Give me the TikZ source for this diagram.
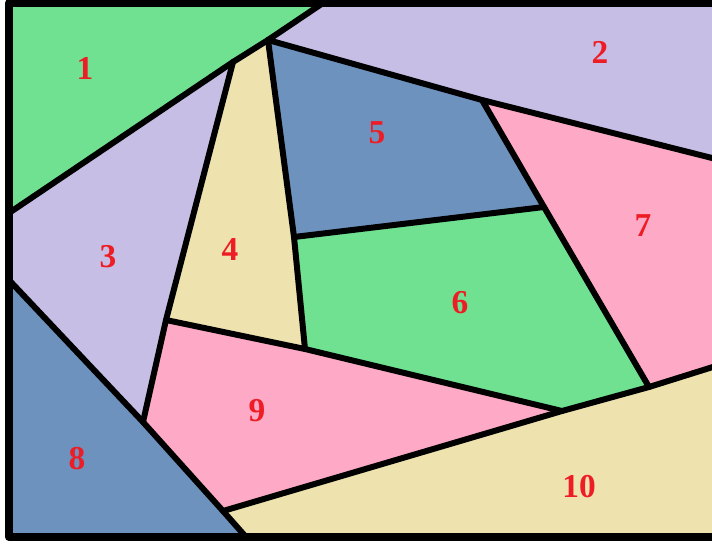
\documentclass[tikz,border=0pt]{standalone}
\usepackage{fontspec}
\setmainfont{Liberation Serif}
\usepackage{tikz}
\usepackage{xcolor}

\definecolor{mapgreen}{RGB}{111,225,145}
\definecolor{maplilac}{RGB}{198,190,228}
\definecolor{mapsand}{RGB}{238,226,174}
\definecolor{mapblue}{RGB}{110,146,190}
\definecolor{mappink}{RGB}{254,170,198}
\definecolor{mapred}{RGB}{238,28,36}

\begin{document}
\begin{tikzpicture}[x=0.02cm,y=-0.02cm,line cap=round,line join=round,
  border/.style={line width=3.4pt,black},
  lbl/.style={text=mapred,font=\fontsize{19}{19}\selectfont\bfseries,inner sep=0pt}]
\useasboundingbox (0,0) rectangle (712,544);
\clip (0,0) rectangle (712,544);
% frame corners
\coordinate (tl) at (9,3);
\coordinate (tr) at (716,3);
\coordinate (br) at (716,537);
\coordinate (bl) at (9,537);
% vertices
\coordinate (l1) at (9,213);
\coordinate (t1) at (323,3);
\coordinate (B) at (268,40);
\coordinate (C) at (233,62);
\coordinate (P2) at (482,100);
\coordinate (r2) at (716,159);
\coordinate (F) at (294,237);
\coordinate (H) at (544,207);
\coordinate (D) at (166,320);
\coordinate (G) at (305,349);
\coordinate (J) at (562,411);
\coordinate (I) at (649,387);
\coordinate (r10) at (716,366);
\coordinate (l8) at (9,280);
\coordinate (E) at (143,422);
\coordinate (K) at (223,511);
\coordinate (b8) at (246,537);
% regions
\fill[mapgreen] (tl) -- (t1) -- (l1) -- cycle;
\fill[maplilac] (t1) -- (tr) -- (r2) -- (P2) -- (B) -- cycle;
\fill[maplilac] (l1) -- (C) -- (D) -- (E) -- (l8) -- cycle;
\fill[mapsand] (C) -- (B) -- (F) -- (G) -- (D) -- cycle;
\fill[mapblue] (B) -- (P2) -- (H) -- (F) -- cycle;
\fill[mapgreen] (F) -- (H) -- (I) -- (J) -- (G) -- cycle;
\fill[mappink] (P2) -- (r2) -- (r10) -- (I) -- (H) -- cycle;
\fill[mapblue] (l8) -- (E) -- (K) -- (b8) -- (bl) -- cycle;
\fill[mappink] (D) -- (G) -- (J) -- (K) -- (E) -- cycle;
\fill[mapsand] (K) -- (J) -- (I) -- (r10) -- (br) -- (b8) -- cycle;
% borders
\draw[border] (l1) -- (C) -- (B) -- (t1);
\draw[border] (B) -- (P2) -- (r2);
\draw[border] (C) -- (D) -- (E);
\draw[border] (B) -- (F) -- (G);
\draw[border] (F) -- (H);
\draw[border] (P2) -- (H) -- (I);
\draw[border] (D) -- (G) -- (J);
\draw[border] (K) -- (J) -- (I) -- (r10);
\draw[border] (l8) -- (E) -- (K) -- (b8);
\draw[line width=4.5pt,line cap=rect] (tl) rectangle (br);
% labels
\node[lbl] (n1) at (85,68) {1};
\node[lbl] (n2) at (600,52) {2};
\node[lbl] (n3) at (108,257) {3};
\node[lbl] (n4) at (230,250) {4};
\node[lbl] (n5) at (377,133) {5};
\node[lbl] (n6) at (460,303) {6};
\node[lbl] (n7) at (643,226) {7};
\node[lbl] (n8) at (77,459) {8};
\node[lbl] (n9) at (257,411) {9};
\node[lbl] (n10) at (579,487) {10};
\end{tikzpicture}
\end{document}
